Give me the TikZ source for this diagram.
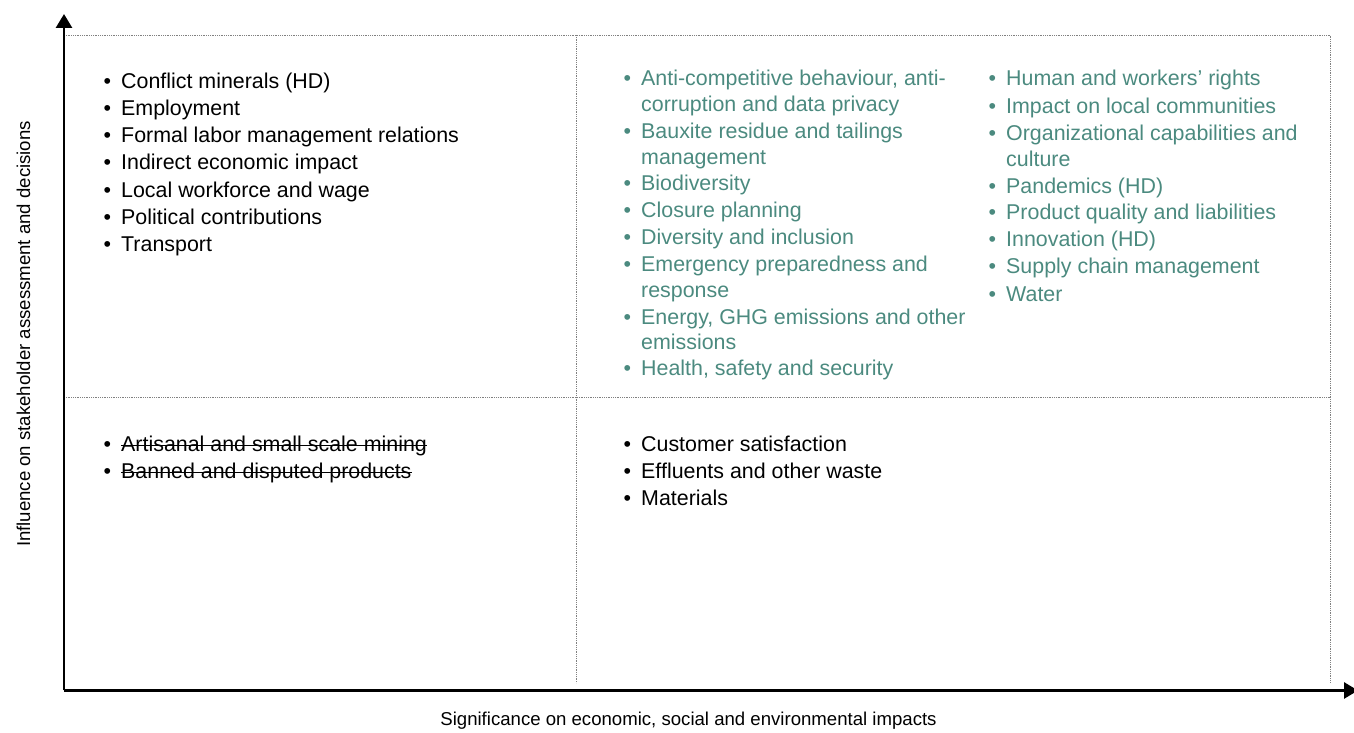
\documentclass[tikz,border=0pt]{standalone}
\usepackage{fontspec}
\setmainfont{Liberation Sans}
\usetikzlibrary{arrows.meta}
\definecolor{MatGreen}{HTML}{4B8A7F}
\definecolor{MatGrid}{HTML}{808080}
% bullet hung left of the text, a two-line topic, a struck-out topic
\newcommand{\bul}{\llap{\textbullet\hspace{10pt}}}
\newcommand{\topic}[1]{\begin{tabular}[t]{@{}l@{}}#1\end{tabular}}
\newcommand{\struck}[1]{\setbox0\hbox{#1}\rlap{\rule[5.8pt]{\wd0}{1.3pt}}\box0}

\begin{document}
\begin{tikzpicture}[x=1pt,y=1pt,
  axis/.style={line width=2.8pt,-{Triangle[length=14pt,width=16pt]}},
  grid/.style={MatGrid,line width=0.9pt,dash pattern=on 0.9pt off 0.9pt},
  item/.style={anchor=base west,inner sep=0pt,font=\fontsize{21.4}{25.5}\selectfont},
  label/.style={inner sep=0pt,font=\fontsize{18.6}{22}\selectfont}]
\path[use as bounding box] (0,0) rectangle (1354,733);

% quadrant grid
\draw[grid] (64,698) -- (1330.5,698) -- (1330.5,50);
\draw[grid] (576,698) -- (576,50);
\draw[grid] (64,336) -- (1330.5,336);

% axes
\coordinate (origin) at (64,42.5);
\coordinate (ytip) at (64,719);
\coordinate (xtip) at (1358,42.5);
\draw[axis] (origin) -- (ytip);
\draw[axis] (origin) -- (xtip);
\node[label,anchor=base] (xlabel) at (688.5,7) {Significance on economic, social and environmental impacts};
\node[label,anchor=base,rotate=90] (ylabel) at (30,399) {Influence on stakeholder assessment and decisions};

% top left
\node[item] (tl1) at (121,644.7) {\bul Conflict minerals (HD)};
\node[item] (tl2) at (121,617.5) {\bul Employment};
\node[item] (tl3) at (121,590.3) {\bul Formal labor management relations};
\node[item] (tl4) at (121,563.1) {\bul Indirect economic impact};
\node[item] (tl5) at (121,535.9) {\bul Local workforce and wage};
\node[item] (tl6) at (121,508.7) {\bul Political contributions};
\node[item] (tl7) at (121,481.5) {\bul Transport};

% top right, first column
\node[item,MatGreen] (tra1) at (641,647) {\topic{\bul Anti-competitive behaviour, anti-\\corruption and data privacy}};
\node[item,MatGreen] (tra2) at (641,594) {\topic{\bul Bauxite residue and tailings\\management}};
\node[item,MatGreen] (tra3) at (641,542) {\bul Biodiversity};
\node[item,MatGreen] (tra4) at (641,515) {\bul Closure planning};
\node[item,MatGreen] (tra5) at (641,488) {\bul Diversity and inclusion};
\node[item,MatGreen] (tra6) at (641,461) {\topic{\bul Emergency preparedness and\\response}};
\node[item,MatGreen] (tra7) at (641,408.5) {\topic{\bul Energy, GHG emissions and other\\emissions}};
\node[item,MatGreen] (tra8) at (641,357) {\bul Health, safety and security};

% top right, second column
\node[item,MatGreen] (trb1) at (1006,647) {\bul Human and workers’ rights};
\node[item,MatGreen] (trb2) at (1006,619) {\bul Impact on local communities};
\node[item,MatGreen] (trb3) at (1006,592) {\topic{\bul Organizational capabilities and\\culture}};
\node[item,MatGreen] (trb4) at (1006,539) {\bul Pandemics (HD)};
\node[item,MatGreen] (trb5) at (1006,513) {\bul Product quality and liabilities};
\node[item,MatGreen] (trb6) at (1006,486) {\bul Innovation (HD)};
\node[item,MatGreen] (trb7) at (1006,459) {\bul Supply chain management};
\node[item,MatGreen] (trb8) at (1006,431) {\bul Water};

% bottom left
\node[item] (bl1) at (121,281) {\bul\struck{Artisanal and small scale mining}};
\node[item] (bl2) at (121,254) {\bul\struck{Banned and disputed products}};

% bottom right
\node[item] (br1) at (641,281) {\bul Customer satisfaction};
\node[item] (br2) at (641,254) {\bul Effluents and other waste};
\node[item] (br3) at (641,227) {\bul Materials};
\end{tikzpicture}
\end{document}
